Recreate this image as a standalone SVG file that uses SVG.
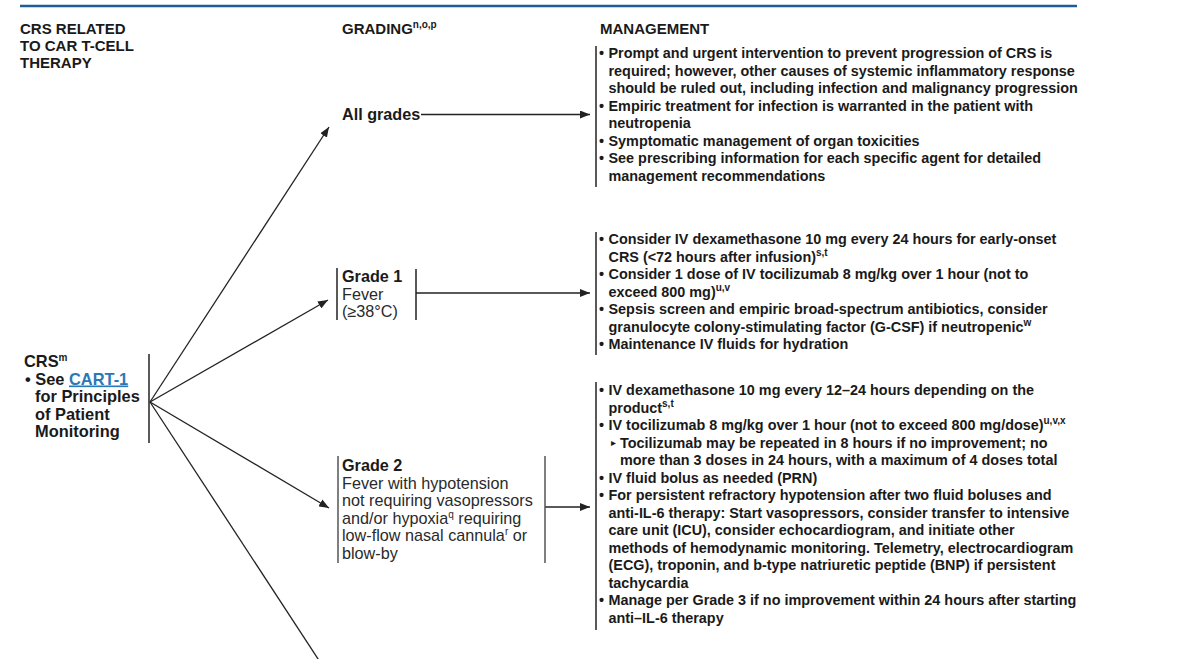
<svg xmlns="http://www.w3.org/2000/svg" width="1185" height="659" viewBox="0 0 1185 659">
<defs>
<style>
text{font-family:'Liberation Sans',Arial,Helvetica,sans-serif;fill:#1a1a1a}
.h{font-size:15px;font-weight:bold}
.m{font-size:14.4px;font-weight:bold}
.g{font-size:16.2px;fill:#2a2a2a}
.gb{font-size:16.2px;font-weight:bold}
.l{font-size:16.4px;font-weight:bold}
.sup{font-size:10px}
.bar{stroke:#222;stroke-width:1.5;fill:none}
.bar2{stroke:#555;stroke-width:1.5;fill:none}
.con{stroke:#222;stroke-width:1.3;fill:none}
.link{fill:#2a78b5;text-decoration:underline}
.tri{font-family:'DejaVu Sans',sans-serif;font-size:10px}
</style>
<marker id="ah" markerUnits="userSpaceOnUse" markerWidth="10" markerHeight="8" refX="10" refY="4" orient="auto" viewBox="0 0 10 8">
<path d="M0,0 L10,4 L0,8 z" fill="#222"/>
</marker>
</defs>
<rect width="1185" height="659" fill="#fff"/>
<line x1="20" y1="6" x2="1077" y2="6" stroke="#1f5c99" stroke-width="2.5"/>

<g id="header">
<text class="h" x="20" y="33.5">CRS RELATED</text>
<text class="h" x="20" y="50.5">TO CAR T-CELL</text>
<text class="h" x="20" y="67.5">THERAPY</text>
<text class="h" x="342" y="33.5">GRADING<tspan class="sup" dy="-6">n,o,p</tspan></text>
<text class="h" x="600" y="33.5">MANAGEMENT</text>
</g>

<g id="connectors">
<line class="con" x1="150" y1="402" x2="329" y2="127" marker-end="url(#ah)"/>
<line class="con" x1="150" y1="402" x2="328" y2="300" marker-end="url(#ah)"/>
<line class="con" x1="150" y1="402" x2="329" y2="508" marker-end="url(#ah)"/>
<line class="con" x1="150" y1="402" x2="322" y2="665"/>
<line class="con" x1="421" y1="114.5" x2="590" y2="114.5" marker-end="url(#ah)"/>
<line class="con" x1="416" y1="293" x2="590" y2="293" marker-end="url(#ah)"/>
<line class="con" x1="545" y1="507" x2="590" y2="507" marker-end="url(#ah)"/>
</g>

<g id="crs-node">
<line class="bar" x1="149" y1="354" x2="149" y2="443"/>
<text class="l" x="24" y="367">CRS<tspan class="sup" dy="-6">m</tspan></text>
<text class="l" x="25" y="384.5">• See <tspan class="link">CART-1</tspan></text>
<text class="l" x="35" y="402">for Principles</text>
<text class="l" x="35" y="419.5">of Patient</text>
<text class="l" x="35" y="437">Monitoring</text>
</g>

<g id="all-grades">
<text class="gb" x="342" y="120">All grades</text>
</g>

<g id="grade-1">
<line class="bar" x1="337" y1="268" x2="337" y2="320"/>
<line class="bar" x1="416" y1="269" x2="416" y2="320"/>
<text class="gb" x="342" y="282">Grade 1</text>
<text class="g" x="342" y="299.5">Fever</text>
<text class="g" x="342" y="317">(≥38°C)</text>
</g>

<g id="grade-2">
<line class="bar2" x1="338" y1="456" x2="338" y2="563"/>
<line class="bar2" x1="545" y1="456" x2="545" y2="563"/>
<text class="gb" x="342" y="471">Grade 2</text>
<text class="g" x="342" y="488.5">Fever with hypotension</text>
<text class="g" x="342" y="506">not requiring vasopressors</text>
<text class="g" x="342" y="523.5">and/or hypoxia<tspan class="sup" dy="-6">q</tspan><tspan dy="6"> requiring</tspan></text>
<text class="g" x="342" y="541">low-flow nasal cannula<tspan class="sup" dy="-6">r</tspan><tspan dy="6"> or</tspan></text>
<text class="g" x="342" y="558.5">blow-by</text>
</g>

<g id="mgmt-all">
<line class="bar" x1="596" y1="46" x2="596" y2="187"/>
<text class="m" x="599" y="58">•</text>
<text class="m" x="608.5" y="58">Prompt and urgent intervention to prevent progression of CRS is</text>
<text class="m" x="608.5" y="75.5">required; however, other causes of systemic inflammatory response</text>
<text class="m" x="608.5" y="93">should be ruled out, including infection and malignancy progression</text>
<text class="m" x="599" y="110.5">•</text>
<text class="m" x="608.5" y="110.5">Empiric treatment for infection is warranted in the patient with</text>
<text class="m" x="608.5" y="128">neutropenia</text>
<text class="m" x="599" y="145.5">•</text>
<text class="m" x="608.5" y="145.5">Symptomatic management of organ toxicities</text>
<text class="m" x="599" y="163">•</text>
<text class="m" x="608.5" y="163">See prescribing information for each specific agent for detailed</text>
<text class="m" x="608.5" y="180.5">management recommendations</text>
</g>

<g id="mgmt-grade-1">
<line class="bar" x1="596" y1="232" x2="596" y2="355"/>
<text class="m" x="599" y="244">•</text>
<text class="m" x="608.5" y="244">Consider IV dexamethasone 10 mg every 24 hours for early-onset</text>
<text class="m" x="608.5" y="261.5">CRS (&lt;72 hours after infusion)<tspan class="sup" dy="-6">s,t</tspan></text>
<text class="m" x="599" y="279">•</text>
<text class="m" x="608.5" y="279">Consider 1 dose of IV tocilizumab 8 mg/kg over 1 hour (not to</text>
<text class="m" x="608.5" y="296.5">exceed 800 mg)<tspan class="sup" dy="-6">u,v</tspan></text>
<text class="m" x="599" y="314">•</text>
<text class="m" x="608.5" y="314">Sepsis screen and empiric broad-spectrum antibiotics, consider</text>
<text class="m" x="608.5" y="331.5">granulocyte colony-stimulating factor (G-CSF) if neutropenic<tspan class="sup" dy="-6">w</tspan></text>
<text class="m" x="599" y="349">•</text>
<text class="m" x="608.5" y="349">Maintenance IV fluids for hydration</text>
</g>

<g id="mgmt-grade-2">
<line class="bar" x1="596" y1="382" x2="596" y2="630"/>
<text class="m" x="599" y="395">•</text>
<text class="m" x="608.5" y="395">IV dexamethasone 10 mg every 12–24 hours depending on the</text>
<text class="m" x="608.5" y="412.5">product<tspan class="sup" dy="-6">s,t</tspan></text>
<text class="m" x="599" y="430">•</text>
<text class="m" x="608.5" y="430">IV tocilizumab 8 mg/kg over 1 hour (not to exceed 800 mg/dose)<tspan class="sup" dy="-6">u,v,x</tspan></text>
<text class="tri" x="611" y="446">▸</text>
<text class="m" x="620" y="447.5">Tocilizumab may be repeated in 8 hours if no improvement; no</text>
<text class="m" x="620" y="465">more than 3 doses in 24 hours, with a maximum of 4 doses total</text>
<text class="m" x="599" y="482.5">•</text>
<text class="m" x="608.5" y="482.5">IV fluid bolus as needed (PRN)</text>
<text class="m" x="599" y="500">•</text>
<text class="m" x="608.5" y="500">For persistent refractory hypotension after two fluid boluses and</text>
<text class="m" x="608.5" y="517.5">anti-IL-6 therapy: Start vasopressors, consider transfer to intensive</text>
<text class="m" x="608.5" y="535">care unit (ICU), consider echocardiogram, and initiate other</text>
<text class="m" x="608.5" y="552.5">methods of hemodynamic monitoring. Telemetry, electrocardiogram</text>
<text class="m" x="608.5" y="570">(ECG), troponin, and b-type natriuretic peptide (BNP) if persistent</text>
<text class="m" x="608.5" y="587.5">tachycardia</text>
<text class="m" x="599" y="605">•</text>
<text class="m" x="608.5" y="605">Manage per Grade 3 if no improvement within 24 hours after starting</text>
<text class="m" x="608.5" y="622.5">anti–IL-6 therapy</text>
</g>
</svg>
